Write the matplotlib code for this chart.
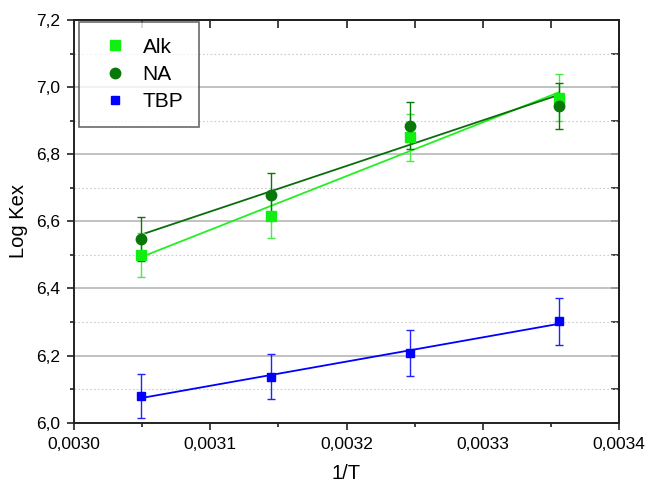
import matplotlib.pyplot as plt
import numpy as np
from matplotlib.ticker import MultipleLocator, FuncFormatter

plt.rcParams['font.family'] = ['Liberation Sans', 'DejaVu Sans']

# 1/T values (K^-1)
invT = [0.0030488, 0.0031447, 0.0032468, 0.0033557]

# Log Kex values with error bars
alk = [6.500, 6.615, 6.850, 6.968]
alk_err = [0.065, 0.065, 0.070, 0.070]
na = [6.548, 6.678, 6.885, 6.944]
na_err = [0.065, 0.065, 0.070, 0.069]
tbp = [6.080, 6.137, 6.207, 6.302]
tbp_err = [0.066, 0.067, 0.069, 0.071]

fig = plt.figure(figsize=(6.46, 4.83), dpi=100)
ax = fig.add_axes([0.1146, 0.1248, 0.8436, 0.8338])

series = [
    ('Alk', alk, alk_err, 's', '#11ee11', '#44ee44', '#22f022', 6.8),
    ('NA', na, na_err, 'o', '#087808', '#087808', '#0a6e0a', 7.5),
    ('TBP', tbp, tbp_err, 's', '#0000ff', '#2222ff', '#0000ff', 6),
]

x = np.array(invT)
for name, y, err, mk, col, ecol, lcol, ms in series:
    # linear fit line
    k, b = np.polyfit(x, y, 1)
    ax.plot(x, k * x + b, color=lcol, lw=1.3, zorder=3)
    ax.errorbar(x, y, yerr=err, fmt=mk, color=col, ecolor=ecol, ms=ms,
                elinewidth=1, capsize=3, capthick=1, label=name, zorder=4)

ax.set_xlim(0.0030, 0.0034)
ax.set_ylim(6.0, 7.2)
ax.xaxis.set_major_locator(MultipleLocator(0.0001))
ax.xaxis.set_minor_locator(MultipleLocator(0.00005))
ax.yaxis.set_major_locator(MultipleLocator(0.2))
ax.yaxis.set_minor_locator(MultipleLocator(0.1))
ax.xaxis.set_major_formatter(FuncFormatter(lambda v, p: f'{v:.4f}'.replace('.', ',')))
ax.yaxis.set_major_formatter(FuncFormatter(lambda v, p: f'{v:.1f}'.replace('.', ',')))

ax.grid(which='major', axis='y', color='#b0b0b0', lw=1.1, ls='-')
ax.grid(which='minor', axis='y', color='#cccccc', lw=0.8, ls=(0, (1.5, 2)))
ax.set_axisbelow(True)

ax.tick_params(which='both', direction='out', labelsize=12.5, width=1.2, color='#222222')
ax.tick_params(which='major', length=5, pad=5)
ax.tick_params(which='minor', length=3)
for spine in ax.spines.values():
    spine.set_linewidth(1.4)
    spine.set_color('#222222')

# mirror ticks on top/right pointing inwards
sec_x = ax.secondary_xaxis('top')
sec_x.xaxis.set_major_locator(MultipleLocator(0.0001))
sec_x.xaxis.set_minor_locator(MultipleLocator(0.00005))
sec_x.tick_params(which='both', direction='in', labeltop=False, width=1.2,
                  color='#222222', length=6)
sec_x.spines['top'].set_linewidth(1.4)
sec_y = ax.secondary_yaxis('right')
sec_y.yaxis.set_major_locator(MultipleLocator(0.2))
sec_y.yaxis.set_minor_locator(MultipleLocator(0.1))
sec_y.tick_params(which='both', direction='in', labelright=False, width=1.2,
                  color='#222222', length=6)
sec_y.spines['right'].set_linewidth(1.4)

ax.set_xlabel('1/T', fontsize=14.5, labelpad=9)
ax.set_ylabel('Log Kex', fontsize=14.5, labelpad=6)

handles, labels = ax.get_legend_handles_labels()
handles = [h[0] for h in handles]
leg = ax.legend(handles, labels, loc='upper left', fontsize=15, frameon=True,
                fancybox=False, shadow=False, edgecolor='#444444',
                borderpad=0.75, handletextpad=0.3, labelspacing=0.4,
                bbox_to_anchor=(0.009, 0.995), handlelength=2.0,
                borderaxespad=0)
leg.get_frame().set_linewidth(1.2)

fig.savefig('out.png', dpi=100)
